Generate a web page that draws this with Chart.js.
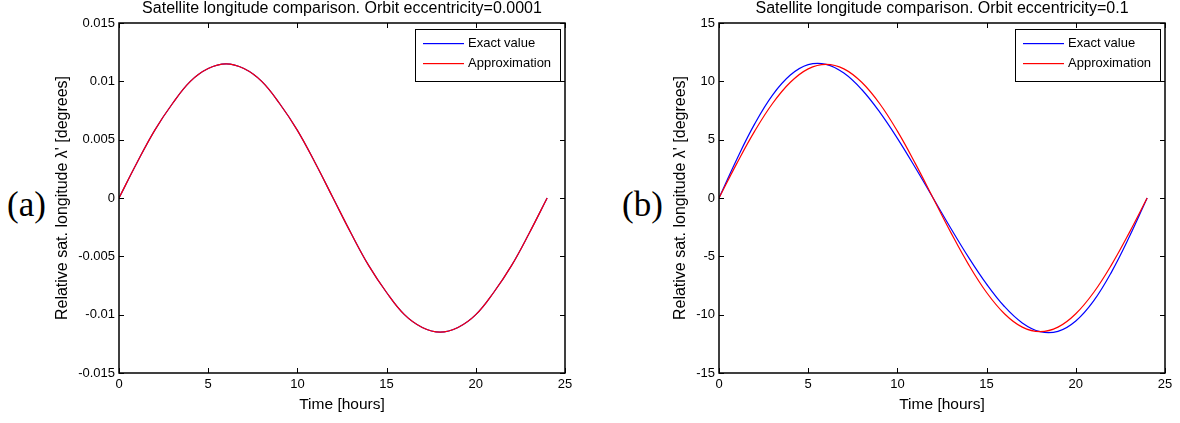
<!DOCTYPE html>
<html>
<head>
<meta charset="utf-8">
<script src="https://cdn.jsdelivr.net/npm/chart.js@4"></script>
<style>
  body { margin: 0; background: #fff; width: 1180px; height: 423px; position: relative; overflow: hidden; }
  canvas { position: absolute; top: 0; }
  #chartA { left: 0; }
  #chartB { left: 600px; }
  .tag { position: absolute; top: 188px; font-family: "Liberation Serif", "Times New Roman", serif; font-size: 35px; line-height: 34px; color: #000; }
</style>
</head>
<body>
<div class="tag" style="left:7px">(a)</div>
<div class="tag" style="left:622px">(b)</div>
<canvas id="chartA" width="600" height="423"></canvas>
<canvas id="chartB" width="580" height="423"></canvas>
<script>
const hours = [0, 1, 2, 3, 4, 5, 6, 7, 8, 9, 10, 11, 12, 13, 14, 15, 16, 17, 18, 19, 20, 21, 22, 23, 24];

// eccentricity 0.0001
const exactA = [0, 0.0030, 0.0058, 0.0081, 0.0100, 0.0111, 0.0115, 0.0111, 0.0100, 0.0081, 0.0058, 0.0030, 0,
  -0.0030, -0.0058, -0.0081, -0.0100, -0.0111, -0.0115, -0.0111, -0.0100, -0.0081, -0.0058, -0.0030, 0];
const approxA = [0, 0.0030, 0.0058, 0.0081, 0.0100, 0.0111, 0.0115, 0.0111, 0.0100, 0.0081, 0.0058, 0.0030, 0,
  -0.0030, -0.0058, -0.0081, -0.0100, -0.0111, -0.0115, -0.0111, -0.0100, -0.0081, -0.0058, -0.0030, 0];

// eccentricity 0.1
const exactB = [0, 3.33, 6.35, 8.82, 10.54, 11.43, 11.46, 10.71, 9.30, 7.38, 5.11, 2.61, 0,
  -2.61, -5.11, -7.38, -9.30, -10.71, -11.46, -11.43, -10.54, -8.82, -6.35, -3.33, 0];
const approxB = [0, 2.97, 5.73, 8.10, 9.92, 11.07, 11.46, 11.07, 9.92, 8.10, 5.73, 2.97, 0,
  -2.97, -5.73, -8.10, -9.92, -11.07, -11.46, -11.07, -9.92, -8.10, -5.73, -2.97, 0];

const xTicks = [0, 5, 10, 15, 20, 25];
const yTicksA = [-0.015, -0.01, -0.005, 0, 0.005, 0.01, 0.015];
const yTicksB = [-15, -10, -5, 0, 5, 10, 15];

const seriesNames = ["Exact value", "Approximation"];
const seriesColors = ["#0000ff", "#ff0000"];
const titleA = "Satellite longitude comparison. Orbit eccentricity=0.0001";
const titleB = "Satellite longitude comparison. Orbit eccentricity=0.1";
const xTitle = "Time [hours]";
const yTitle = "Relative sat. longitude \u03bb' [degrees]";

const FONT = "'Liberation Sans', Arial, sans-serif";

const toPoints = function (xs, ys) {
    return xs.map((x, i) => ({ x: x, y: ys[i] }));
};

// matlab style box, inward ticks, title and legend
const matlabLook = {
    id: "matlabLook",
    afterDraw(chart, args, opts) {
        const ctx = chart.ctx;
        const a = chart.chartArea;
        const xs = chart.scales.x;
        const ys = chart.scales.y;
        ctx.save();
        ctx.strokeStyle = "#000";
        ctx.lineWidth = 1;
        ctx.beginPath();
        xs.ticks.forEach(t => {
            const px = Math.round(xs.getPixelForValue(t.value)) + 0.5;
            ctx.moveTo(px, a.bottom); ctx.lineTo(px, a.bottom - 5);
            ctx.moveTo(px, a.top); ctx.lineTo(px, a.top + 5);
        });
        ys.ticks.forEach(t => {
            const py = Math.round(ys.getPixelForValue(t.value)) + 0.5;
            ctx.moveTo(a.left, py); ctx.lineTo(a.left + 5, py);
            ctx.moveTo(a.right, py); ctx.lineTo(a.right - 5, py);
        });
        ctx.stroke();
        ctx.lineWidth = 1.5;
        ctx.strokeRect(a.left, a.top, a.right - a.left, a.bottom - a.top);

        // title
        ctx.fillStyle = "#000";
        ctx.font = "16px " + FONT;
        ctx.textAlign = "center";
        ctx.textBaseline = "alphabetic";
        ctx.fillText(opts.title, (a.left + a.right) / 2, 13);

        // legend
        const lx = a.right - 150, ly = 29, lw = 145, lh = 52;
        ctx.fillStyle = "#fff";
        ctx.fillRect(lx, ly, lw, lh);
        ctx.lineWidth = 1;
        ctx.strokeStyle = "#000";
        ctx.strokeRect(lx + 0.5, ly + 0.5, lw, lh);
        ctx.font = "13px " + FONT;
        ctx.textAlign = "left";
        ctx.textBaseline = "middle";
        seriesNames.forEach((name, i) => {
            const y = ly + 14 + i * 20;
            ctx.fillStyle = seriesColors[i];
            ctx.fillRect(lx + 8, y, 41, 1.2);
            ctx.fillStyle = "#000";
            ctx.fillText(name, lx + 53, y);
        });
        ctx.restore();
    }
};

const makeChart = function (id, exact, approx, yTicks, title, rightPad, yTitlePad, fmt) {
    return new Chart(document.getElementById(id), {
        type: "line",
        data: {
            datasets: [
                { label: seriesNames[0], data: toPoints(hours, exact), borderColor: seriesColors[0], borderWidth: 1.2, pointRadius: 0, tension: 0.4, order: 1 },
                { label: seriesNames[1], data: toPoints(hours, approx), borderColor: seriesColors[1], borderWidth: 1.2, pointRadius: 0, tension: 0.4, order: 0 }
            ]
        },
        options: {
            responsive: false,
            animation: false,
            devicePixelRatio: 1,
            layout: { padding: { left: 0, right: rightPad, top: 23, bottom: 0 } },
            plugins: {
                legend: { display: false },
                tooltip: { enabled: false },
                matlabLook: { title: title }
            },
            scales: {
                x: {
                    type: "linear",
                    min: xTicks[0],
                    max: xTicks[xTicks.length - 1],
                    afterBuildTicks: s => { s.ticks = xTicks.map(v => ({ value: v })); },
                    afterFit: s => { s.height = 50; },
                    grid: { display: false, drawTicks: false },
                    border: { display: false },
                    ticks: { padding: 4, color: "#000", font: { family: FONT, size: 13 }, maxRotation: 0, callback: v => String(v) },
                    title: { display: true, text: xTitle, color: "#000", font: { family: FONT, size: 15.5 }, padding: { top: 0, bottom: 9 } }
                },
                y: {
                    type: "linear",
                    min: yTicks[0],
                    max: yTicks[yTicks.length - 1],
                    afterBuildTicks: s => { s.ticks = yTicks.map(v => ({ value: v })); },
                    afterFit: s => { s.width = 119; },
                    grid: { display: false, drawTicks: false },
                    border: { display: false },
                    ticks: { padding: 4, color: "#000", font: { family: FONT, size: 13 }, callback: fmt },
                    title: { display: true, text: yTitle, color: "#000", font: { family: FONT, size: 16 }, padding: { top: yTitlePad, bottom: 0 } }
                }
            }
        },
        plugins: [matlabLook]
    });
};

makeChart("chartA", exactA, approxA, yTicksA, titleA, 35, 53, v => String(parseFloat(v.toFixed(3))));
makeChart("chartB", exactB, approxB, yTicksB, titleB, 15, 71, v => String(v));
</script>
</body>
</html>
